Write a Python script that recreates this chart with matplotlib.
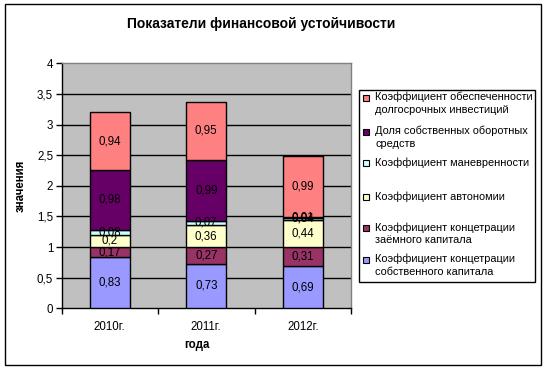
import matplotlib
matplotlib.use("Agg")
import matplotlib.pyplot as plt
from matplotlib.patches import Rectangle
import numpy as np

plt.rcParams['font.family'] = ['Liberation Sans', 'DejaVu Sans']

categories = ["2010г.", "2011г.", "2012г."]
series_names = [
    "Коэффициент концетрации\nсобственного капитала",
    "Коэффициент концетрации\nзаёмного капитала",
    "Коэффициент автономии",
    "Коэффициент маневренности",
    "Доля собственных оборотных\nсредств",
    "Коэффициент обеспеченности\nдолгосрочных инвестиций",
]
conc_own = [0.83, 0.73, 0.69]
conc_debt = [0.17, 0.27, 0.31]
autonomy = [0.20, 0.36, 0.44]
maneuver = [0.08, 0.07, 0.04]
own_working = [0.98, 0.99, 0.01]
lt_invest = [0.94, 0.95, 0.99]
series_values = [conc_own, conc_debt, autonomy, maneuver, own_working, lt_invest]
colors = ["#9999FF", "#993366", "#FFFFCC", "#CCFFFF", "#660066", "#FF8080"]
yticks = [0, 0.5, 1, 1.5, 2, 2.5, 3, 3.5, 4]
ytick_labels = ["0", "0,5", "1", "1,5", "2", "2,5", "3", "3,5", "4"]

W, H = 545, 369
fig = plt.figure(figsize=(W / 100, H / 100), dpi=100)
fig.patch.set_facecolor("white")

# outer border
fig.patches.append(Rectangle((5 / W, 1 - 364.5 / H), 535.5 / W, 360.5 / H,
                             transform=fig.transFigure, fill=False,
                             edgecolor="black", linewidth=1.0))

ax = fig.add_axes([61.5 / W, 1 - 308.3 / H, (351 - 61.5) / W, (308.3 - 63.3) / H])
ax.set_facecolor("#C0C0C0")

x = np.arange(len(categories))
bottom = np.zeros(len(categories))
for vals, col in zip(series_values, colors):
    vals = np.array(vals)
    ax.bar(x, vals, width=0.41, bottom=bottom, color=col, edgecolor="black",
           linewidth=1.0, zorder=3)
    for xi, b, v in zip(x, bottom, vals):
        ax.text(xi, b + v / 2, f"{v:.2f}".rstrip("0").rstrip(".").replace(".", ","),
                ha="center", va="center", fontsize=8.3, color="black", zorder=4)
    bottom += vals

ax.set_xlim(-0.5, 2.5)
ax.set_ylim(0, 4)
ax.set_yticks(yticks)
ax.set_yticklabels(ytick_labels, fontsize=8.3)
ax.set_xticks(x)
ax.set_xticklabels(categories, fontsize=8.3)
ax.set_xticks([-0.5, 0.5, 1.5, 2.5], minor=True)
ax.tick_params(axis="x", which="major", length=0, pad=9)
ax.tick_params(axis="x", which="minor", length=4, direction="out", width=1)
ax.tick_params(axis="y", length=4, direction="out", width=1, pad=2)
for yv in yticks[1:-1]:
    ax.axhline(yv, color="black", linewidth=1.0, zorder=1)
for s in ["top", "right"]:
    ax.spines[s].set_color("#808080")
    ax.spines[s].set_linewidth(1.0)
for s in ["left", "bottom"]:
    ax.spines[s].set_color("black")
    ax.spines[s].set_linewidth(1.0)

fig.text(261 / W, 1 - 24 / H, "Показатели финансовой устойчивости",
         ha="center", va="center", fontsize=10, fontweight="bold")
fig.text(197 / W, 1 - 345 / H, "года", ha="center", va="center",
         fontsize=8.3, fontweight="bold")
fig.text(21 / W, 1 - 186 / H, "значения", ha="center", va="center",
         fontsize=8.3, fontweight="bold", rotation=90)

# legend (Excel style)
fig.patches.append(Rectangle((359 / W, 1 - 282 / H), (535 - 359) / W, (282 - 90) / H,
                             transform=fig.transFigure, facecolor="white",
                             edgecolor="black", linewidth=1.0))
first_line_y = [98, 132, 163, 197, 228, 260]
order = list(range(len(series_names)))[::-1]
for yy, idx in zip(first_line_y, order):
    fig.patches.append(Rectangle((363 / W, 1 - (yy + 3) / H), 6 / W, 6 / H,
                                 transform=fig.transFigure, facecolor=colors[idx],
                                 edgecolor="black", linewidth=0.8))
    fig.text(375 / W, 1 - (yy - 6) / H, series_names[idx], ha="left", va="top",
             fontsize=7.9, linespacing=1.3)

fig.savefig("out.png", dpi=100)
